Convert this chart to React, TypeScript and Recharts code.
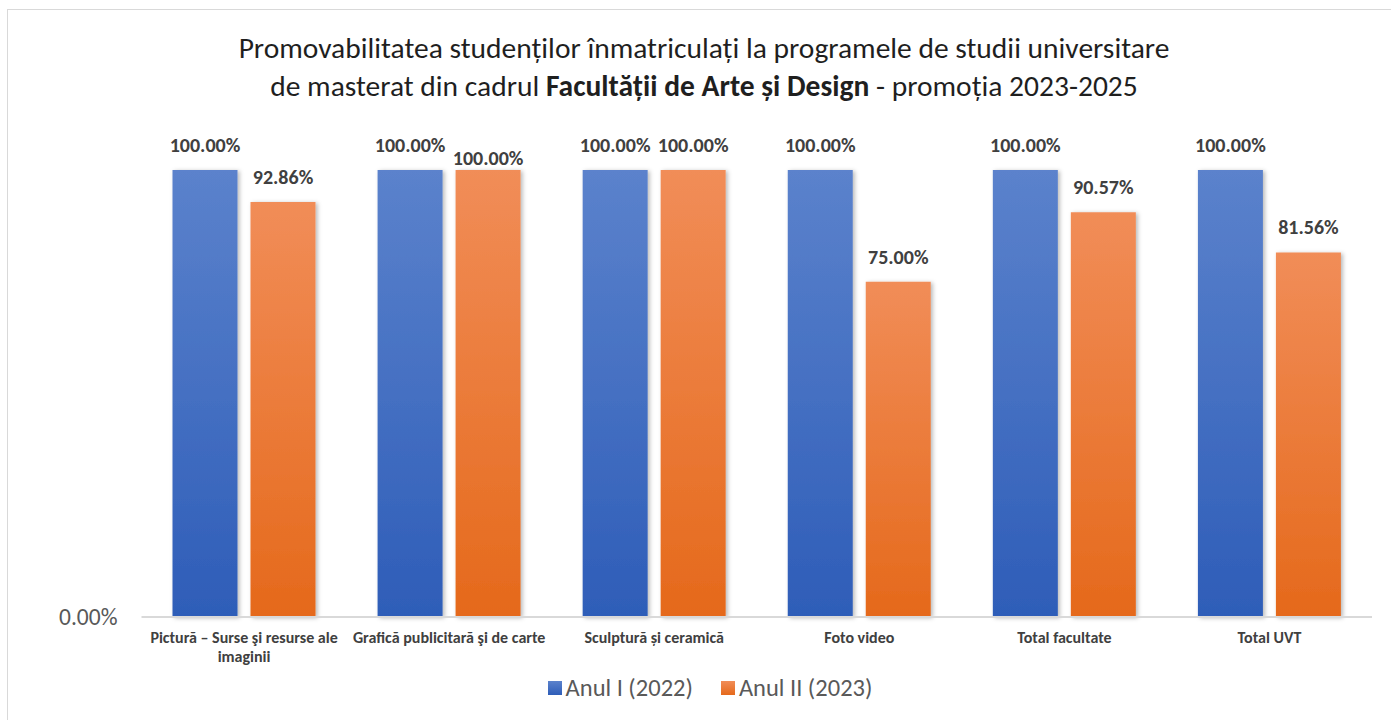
import { Bar, BarChart, LabelList, Text, XAxis, YAxis } from 'recharts';

const categories = [
  'Pictură – Surse şi resurse ale imaginii',
  'Grafică publicitară şi de carte',
  'Sculptură și ceramică',
  'Foto video',
  'Total facultate',
  'Total UVT',
];
const anulI = [100, 100, 100, 100, 100, 100];
const anulII = [92.86, 100, 100, 75, 90.57, 81.56];
const yTicks = [0];

const series = [
  { key: 'anulI', label: 'Anul I (2022)', top: '#5b82cc', bottom: '#2e5db8' },
  { key: 'anulII', label: 'Anul II (2023)', top: '#f18d58', bottom: '#e5691b' },
];

const data = categories.map((name, i) => ({ name, anulI: anulI[i], anulII: anulII[i] }));

const FONT = 'Carlito, Lato, sans-serif';

// Excel nudged the orange label of the 2nd group down so it doesn't sit on the blue one
const labelNudge: Record<string, Record<number, number>> = { anulI: {}, anulII: { 1: 13 } };

function makeLabel(key: string) {
  return (props: any) => {
    const { x, y, width, value, index } = props;
    const dy = labelNudge[key][index] ?? 0;
    return (
      <text x={Number(x) + Number(width) / 2} y={Number(y) - 18 + dy} textAnchor="middle" fontFamily={FONT} fontSize={20} fontWeight={700} fill="#404040">
        {Number(value).toFixed(2)}%
      </text>
    );
  };
}

function CategoryTick({ x, y, payload }: any) {
  return (
    <Text x={x} y={y + 7} width={210} textAnchor="middle" verticalAnchor="start" lineHeight={19} fontFamily={FONT} fontSize={16} fontWeight={700} fill="#404040">
      {payload.value}
    </Text>
  );
}

export default function App() {
  return (
    <div style={{ position: 'absolute', left: 0, top: 0, width: 1391, height: 720, overflow: 'hidden', background: '#fff', fontFamily: FONT }}>
      <div style={{ position: 'absolute', left: 7, top: 9, width: 1400, height: 720, border: '1px solid #d9d9d9' }} />
      <div style={{ position: 'absolute', left: 0, top: 29, width: 1408, textAlign: 'center', fontSize: 29.5, lineHeight: '38px', color: '#1f1f1f' }}>
        <div>Promovabilitatea studenților înmatriculați la programele de studii universitare</div>
        <div>
          de masterat din cadrul <b>Facultății de Arte și Design</b> - promoția 2023-2025
        </div>
      </div>
      <div style={{ position: 'absolute', left: 0, top: 0 }}>
        <BarChart width={1391} height={720} data={data} margin={{ top: 170, right: 19, bottom: 43, left: 61.5 }} barGap={13} barSize={65}>
          <defs>
            {series.map(s => (
              <linearGradient key={s.key} id={`grad-${s.key}`} x1="0" y1="0" x2="0" y2="1">
                <stop offset="0%" stopColor={s.top} />
                <stop offset="100%" stopColor={s.bottom} />
              </linearGradient>
            ))}
            <filter id="barShadow" x="-20%" y="-5%" width="150%" height="115%">
              <feDropShadow dx="2" dy="1" stdDeviation="2" floodColor="#000" floodOpacity="0.28" />
            </filter>
          </defs>
          <XAxis dataKey="name" height={60} axisLine={{ stroke: '#d9d9d9', strokeWidth: 2 }} tickLine={false} tick={<CategoryTick />} interval={0} />
          <YAxis domain={[0, 100]} ticks={yTicks} width={80} axisLine={false} tickLine={false} tickSize={0} tickMargin={24} tickFormatter={(v: number) => `${v.toFixed(2)}%`} tick={{ fontSize: 23.5, fill: '#595959', fontFamily: FONT }} />
          {series.map(s => (
            <Bar key={s.key} dataKey={s.key} name={s.label} fill={`url(#grad-${s.key})`} filter="url(#barShadow)" isAnimationActive={false}>
              <LabelList dataKey={s.key} content={makeLabel(s.key)} />
            </Bar>
          ))}
        </BarChart>
      </div>
      <div style={{ position: 'absolute', left: 0, top: 673, width: 1420, display: 'flex', justifyContent: 'center', gap: 28, fontSize: 24.5, lineHeight: '30px', color: '#595959' }}>
        {series.map(s => (
          <div key={s.key} style={{ display: 'flex', alignItems: 'center', gap: 4 }}>
            <span style={{ display: 'inline-block', width: 14, height: 14, background: `linear-gradient(${s.top}, ${s.bottom})` }} />
            <span>{s.label}</span>
          </div>
        ))}
      </div>
    </div>
  );
}
